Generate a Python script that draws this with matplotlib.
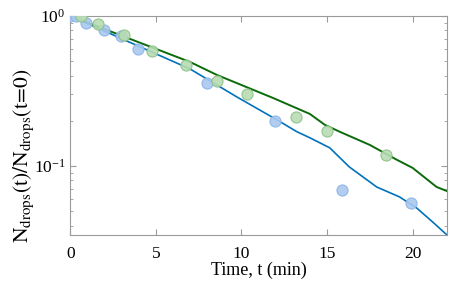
import matplotlib
matplotlib.use("Agg")
import matplotlib.pyplot as plt

plt.rcParams["font.family"] = ["Liberation Serif", "DejaVu Serif"]
plt.rcParams["mathtext.fontset"] = "stix"

# measured points
t_blue = [0, 0.35, 0.93, 1.98, 2.97, 3.95, 7.97, 11.98, 15.9, 19.9]
n_blue = [1.0, 1.0, 0.90, 0.81, 0.74, 0.60, 0.357, 0.20, 0.069, 0.057]
t_green = [0.64, 1.63, 3.14, 4.77, 6.74, 8.6, 10.35, 13.2, 15.0, 18.43]
n_green = [1.0, 0.885, 0.747, 0.584, 0.47, 0.369, 0.302, 0.212, 0.171, 0.118]

# model curves
tl_blue = [0, 7.0, 9.74, 12.07, 13.24, 14.0, 15.16, 16.3, 17.9, 19.24, 20.23, 21.17, 22.0]
nl_blue = [1.0, 0.443, 0.288, 0.203, 0.169, 0.154, 0.132, 0.0985, 0.0724, 0.0621, 0.0525, 0.0423, 0.0347]
tl_green = [0, 7.0, 8.57, 11.84, 14.0, 14.87, 15.74, 17.5, 19.07, 20.0, 21.4, 22.0]
nl_green = [1.0, 0.493, 0.404, 0.284, 0.222, 0.188, 0.169, 0.138, 0.110, 0.097, 0.0724, 0.068]

fig = plt.figure(figsize=(4.5, 2.84), dpi=100)
ax = fig.add_axes([0.156, 0.173, 0.837, 0.771])

ax.plot(tl_blue, nl_blue, color="#0072BD", lw=1.2, zorder=2)
ax.plot(tl_green, nl_green, color="#0b6b0b", lw=1.4, zorder=2)
ax.plot(t_blue, n_blue, "o", ms=8, mfc="#a9c9f0", mec="#8db3e6", mew=0.8, alpha=0.9, zorder=3)
ax.plot(t_green, n_green, "o", ms=8, mfc="#b7dcb2", mec="#8cc086", mew=0.8, alpha=0.9, zorder=3)

ax.set_yscale("log")
ax.set_xlim(0, 22)
ax.set_ylim(0.0347, 1.0)
ax.set_xticks([0, 5, 10, 15, 20])

for s in ax.spines.values():
    s.set_color("#9a9a9a")
    s.set_linewidth(0.8)
ax.tick_params(which="both", direction="in", top=True, right=True, color="#9a9a9a",
               labelsize=12.5, labelcolor="black")
ax.tick_params(which="major", length=4)
ax.tick_params(which="minor", length=2)
ax.tick_params(axis="x", pad=8)

ax.set_xlabel("Time, t (min)", fontsize=13, labelpad=0)
ax.set_ylabel(r"$\mathrm{N_{drops}(t)/N_{drops}(t\!=\!0)}$", fontsize=15.5, labelpad=2)
ax.yaxis.set_label_coords(-0.09, 0.36)

fig.savefig("out.png", dpi=100)
